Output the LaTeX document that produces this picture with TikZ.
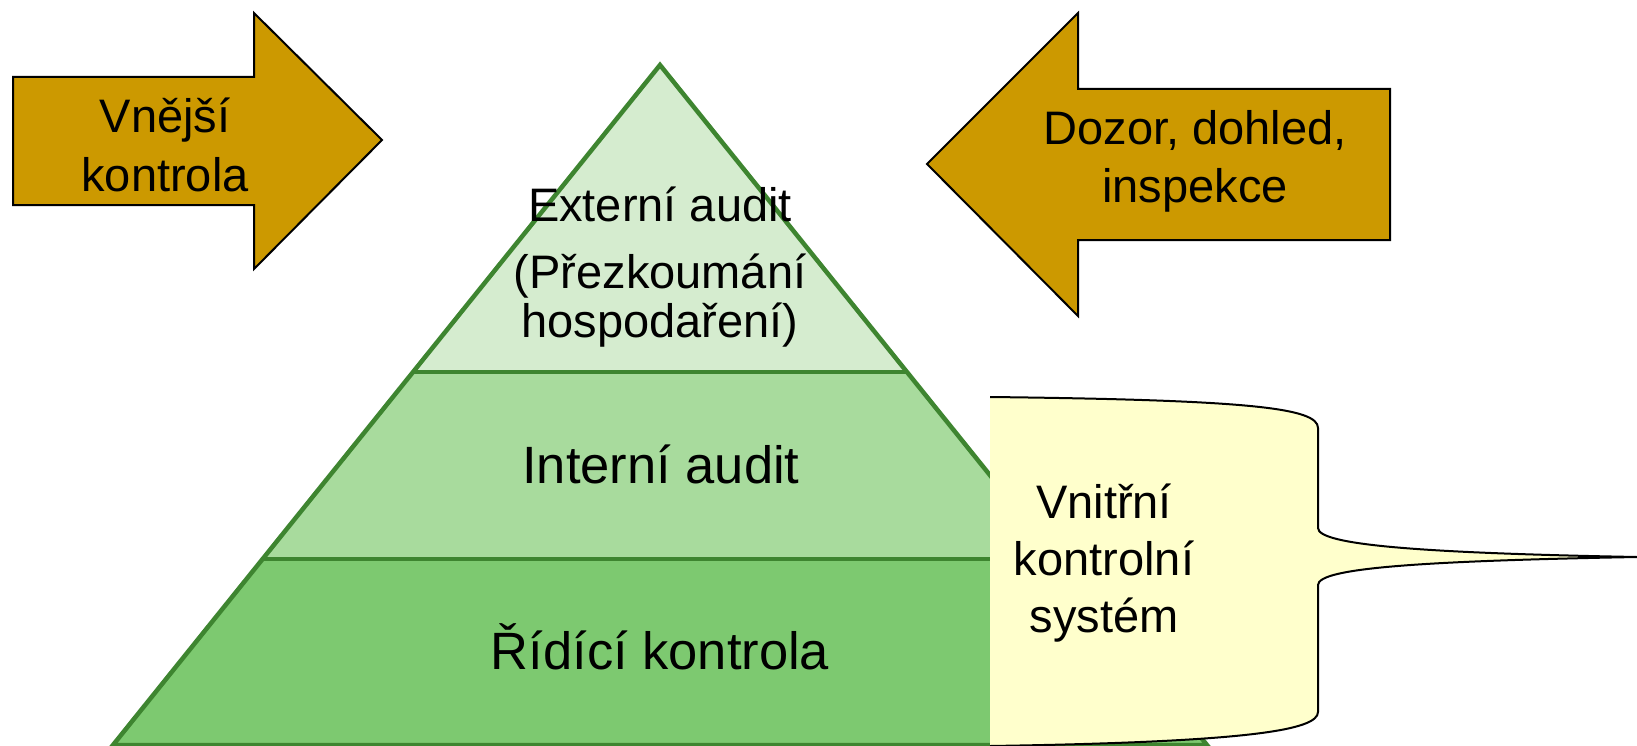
\documentclass[tikz,border=0pt]{standalone}
\usepackage{fontspec}
\setmainfont{Liberation Sans}
\definecolor{gold}{HTML}{CC9900}
\definecolor{pyrline}{HTML}{3E8530}
\definecolor{tierA}{HTML}{D5ECCF}
\definecolor{tierB}{HTML}{A8DB9D}
\definecolor{tierC}{HTML}{7DC970}
\definecolor{callfill}{HTML}{FFFFCC}
\begin{document}
\begin{tikzpicture}[x=1pt,y=-1pt,
  lbl/.style={anchor=base,inner sep=0pt,font=\fontsize{47}{56}\selectfont},
  biglbl/.style={anchor=base,inner sep=0pt,font=\fontsize{52.5}{62}\selectfont},
  arrowshape/.style={fill=gold,draw=black,line width=2pt,line join=miter},
  pyr/.style={draw=pyrline,line width=4.5pt,line join=miter}]
\useasboundingbox (0,0) rectangle (1637,746);

% pyramid coordinates
\coordinate (A) at (660,65);
\coordinate (BL) at (113,745);
\coordinate (BR) at (1207,745);
\coordinate (L1) at (413,372);
\coordinate (R1) at (907,372);
\coordinate (L2) at (262.6,559);
\coordinate (R2) at (1057.4,559);

\fill[tierA] (A) -- (R1) -- (L1) -- cycle;
\fill[tierB] (L1) -- (R1) -- (R2) -- (L2) -- cycle;
\fill[tierC] (L2) -- (R2) -- (BR) -- (BL) -- cycle;
\draw[pyr] (A) -- (BR) -- (BL) -- cycle;
\draw[pyr] (L1) -- (R1);
\draw[pyr] (L2) -- (R2);

% left arrow
\draw[arrowshape] (13,77) -- (254,77) -- (254,13) -- (382,140) -- (254,269) -- (254,205) -- (13,205) -- cycle;
% right arrow
\draw[arrowshape] (1390,89) -- (1078,89) -- (1078,13) -- (927,164) -- (1078,316) -- (1078,240) -- (1390,240) -- cycle;

% callout
\fill[callfill] (990,397) .. controls (1250,400) and (1318,408) .. (1318,428)
  -- (1318,528) .. controls (1318,545) and (1420,553) .. (1637,557)
  .. controls (1420,561) and (1318,568) .. (1318,585)
  -- (1318,712) .. controls (1318,730) and (1250,742) .. (990,746) -- cycle;
\draw[black,line width=2pt] (990,397) .. controls (1250,400) and (1318,408) .. (1318,428)
  -- (1318,528) .. controls (1318,545) and (1420,553) .. (1637,557)
  .. controls (1420,561) and (1318,568) .. (1318,585)
  -- (1318,712) .. controls (1318,730) and (1250,742) .. (990,746);

% texts
\node[lbl] (vn1) at (165,133) {Vnější};
\node[lbl] (vn2) at (165,191) {kontrola};
\node[lbl] (dz1) at (1195,145) {Dozor, dohled,};
\node[lbl] (dz2) at (1195,203) {inspekce};
\node[lbl] (ex1) at (660,221) {Externí audit};
\node[lbl] (ex2) at (660,288) {(Přezkoumání};
\node[lbl] (ex3) at (660,337) {hospodaření)};
\node[biglbl] (ia) at (661,483) {Interní audit};
\node[biglbl] (rk) at (660,669) {Řídící kontrola};
\node[lbl] (vk1) at (1104,518) {Vnitřní};
\node[lbl] (vk2) at (1104,575) {kontrolní};
\node[lbl] (vk3) at (1104,632) {systém};
\end{tikzpicture}
\end{document}
